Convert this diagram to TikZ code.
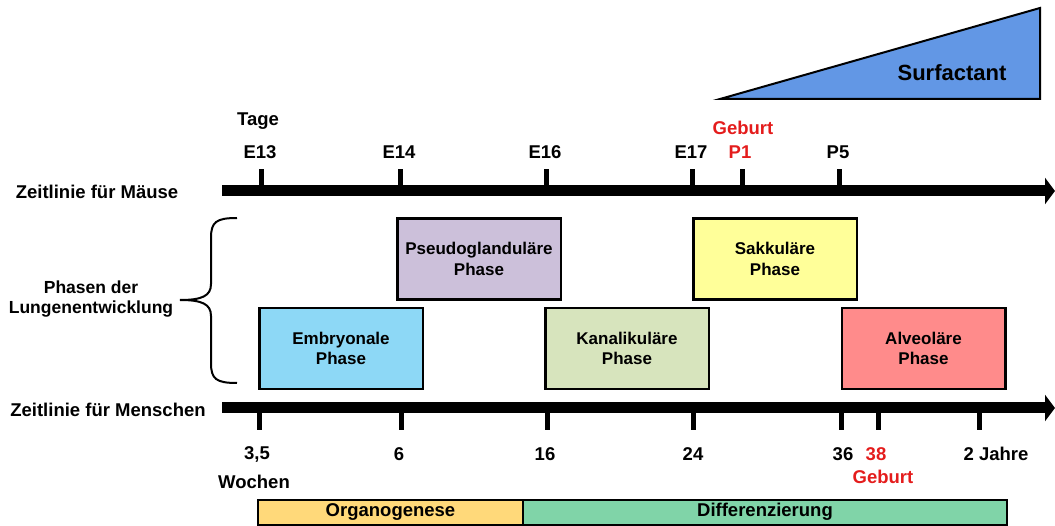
\documentclass[tikz,border=0pt]{standalone}
\usepackage{fontspec}
\setmainfont{Liberation Sans}
\usetikzlibrary{arrows.meta}
\definecolor{cEmb}{RGB}{141,216,246}
\definecolor{cPse}{RGB}{204,192,218}
\definecolor{cKan}{RGB}{215,228,189}
\definecolor{cSak}{RGB}{255,255,153}
\definecolor{cAlv}{RGB}{255,139,139}
\definecolor{cSurf}{RGB}{98,151,229}
\definecolor{cOrg}{RGB}{255,217,122}
\definecolor{cDif}{RGB}{128,212,168}
\definecolor{cRed}{RGB}{228,28,28}
\begin{document}
\begin{tikzpicture}[x=1pt,y=-1pt,
  lbl/.style={font=\fontsize{18.5}{20}\selectfont\bfseries, inner sep=0pt},
  redlbl/.style={lbl, text=cRed},
  timeline/.style={line width=11pt, -{Triangle[length=10pt,width=26pt]}},
  tickmark/.style={line width=5pt},
  phase/.style={draw, line width=2.5pt, minimum width=163.5pt, minimum height=81pt, inner sep=0pt, align=center,
    font=\fontsize{17}{20.5}\selectfont\bfseries},
  barbox/.style={draw, line width=2pt, minimum height=25pt, inner sep=0pt,
    font=\fontsize{18.5}{20}\selectfont\bfseries}]
\useasboundingbox (0,0) rectangle (1055,526);

% Surfactant triangle
\draw[line width=2pt, line join=miter, fill=cSurf] (720,99) -- (1040,8) -- (1040,99) -- cycle;
\node[lbl, font=\fontsize{22}{24}\selectfont\bfseries] (surf) at (952,73) {Surfactant};

% Mouse timeline
\node[lbl] (mlabel) at (97,192) {Zeitlinie für Mäuse};
\coordinate (m0) at (222,191);
\coordinate (m1) at (1055,191);
\draw[timeline] (m0) -- (m1);
\node[lbl] (tage) at (258,121) {Tage};
\foreach \x/\t/\n in {261/E13/e13, 400/E14/e14, 546/E16/e16, 692/E17/e17, 839/P5/p5}{
  \draw[tickmark] (\x,187) -- (\x,169);
  \node[lbl] (\n) at (\x-1,152) {\t};
}
\draw[tickmark] (742,187) -- (742,169);
\node[redlbl] (p1) at (740,152) {P1};
\node[redlbl] (geburtm) at (743,128) {Geburt};

% Brace and phase label
\draw[line width=2pt] (237,218) .. controls (216,218) and (211,222) .. (211,238) -- (211,284)
  .. controls (211,296) and (202,300) .. (180,300)
  .. controls (202,300) and (211,304) .. (211,316) -- (211,363)
  .. controls (211,379) and (216,383) .. (237,383);
\node[lbl, align=center, font=\fontsize{17.5}{20}\selectfont\bfseries] (phasen) at (91,299) {Phasen der\\Lungenentwicklung};

% Phase boxes
\node[phase, fill=cPse] (pse) at (479,259) {Pseudoglanduläre\\Phase};
\node[phase, fill=cSak] (sak) at (775,259) {Sakkuläre\\Phase};
\node[phase, fill=cEmb] (emb) at (341,348.5) {Embryonale\\Phase};
\node[phase, fill=cKan] (kan) at (627,348.5) {Kanalikuläre\\Phase};
\node[phase, fill=cAlv] (alv) at (923.5,348.5) {Alveoläre\\Phase};

% Human timeline
\node[lbl] (hlabel) at (108,410) {Zeitlinie für Menschen};
\coordinate (h0) at (222,408);
\coordinate (h1) at (1055,408);
\draw[timeline] (h0) -- (h1);
\foreach \x in {259,401,547,693,841,878,979}{
  \draw[tickmark] (\x,412) -- (\x,430);
}
\node[lbl] (w35) at (257,454) {3,5};
\node[lbl] (w6) at (399,454) {6};
\node[lbl] (w16) at (545,454) {16};
\node[lbl] (w24) at (693,454) {24};
\node[lbl] (w36) at (843,454) {36};
\node[redlbl] (w38) at (876,454) {38};
\node[lbl] (j2) at (996,454) {2 Jahre};
\node[lbl] (wochen) at (254,482) {Wochen};
\node[redlbl] (geburth) at (883,477) {Geburt};

% Bottom bars
\node[barbox, fill=cOrg, minimum width=265pt] (org) at (390.5,512) {Organogenese};
\node[barbox, fill=cDif, minimum width=484pt] (dif) at (765,512) {Differenzierung};
\end{tikzpicture}
\end{document}
